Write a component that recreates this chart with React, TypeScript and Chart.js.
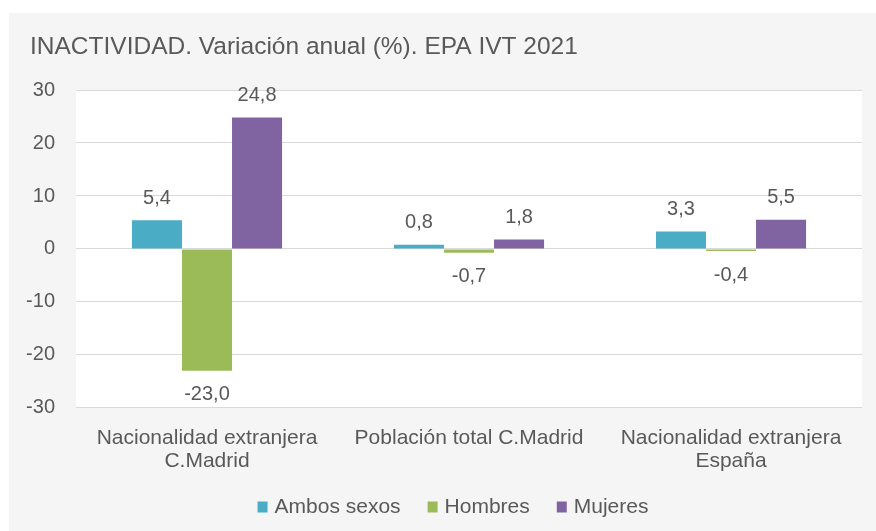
import React, { useEffect, useRef } from "react";
import { Chart, registerables } from "chart.js";
Chart.register(...registerables);

const titleText = "INACTIVIDAD. Variación anual (%). EPA IVT 2021";
const categories: string[][] = [
  ["Nacionalidad extranjera", "C.Madrid"],
  ["Población total C.Madrid"],
  ["Nacionalidad extranjera", "España"],
];
const seriesNames = ["Ambos sexos", "Hombres", "Mujeres"];
const ambosSexos = [5.4, 0.8, 3.3];
const hombres = [-23.0, -0.7, -0.4];
const mujeres = [24.8, 1.8, 5.5];
const seriesColors = ["#4BACC6", "#9BBB59", "#8064A2"];
const yMin = -30;
const yMax = 30;
const yStep = 10;

const FONT = "'Liberation Sans', Arial, sans-serif";
const TEXT = "#595959";

const bgPlugin = {
  id: "bgPlugin",
  beforeDraw(chart: any) {
    const { ctx, chartArea } = chart;
    ctx.save();
    ctx.fillStyle = "#ffffff";
    ctx.fillRect(0, 0, chart.width, chart.height);
    ctx.fillStyle = "#f5f5f5";
    ctx.fillRect(9, 13, chart.width - 9, chart.height - 13);
    ctx.fillStyle = "#ffffff";
    ctx.fillRect(chartArea.left, chartArea.top, chartArea.right - chartArea.left, chartArea.bottom - chartArea.top);
    ctx.fillStyle = TEXT;
    ctx.font = `24.5px ${FONT}`;
    ctx.textBaseline = "middle";
    ctx.textAlign = "left";
    ctx.fillText(titleText, 30, 47);

    // legend
    ctx.font = `21px ${FONT}`;
    const boxW = 10, boxH = 11, gapBT = 7, gapItem = 27;
    const widths = seriesNames.map((n) => ctx.measureText(n).width);
    const total = widths.reduce((a, w) => a + boxW + gapBT + w, 0) + gapItem * (seriesNames.length - 1);
    let x = 453 - total / 2;
    const cy = 507;
    seriesNames.forEach((n, i) => {
      ctx.fillStyle = seriesColors[i];
      ctx.fillRect(x, cy - boxH / 2, boxW, boxH);
      x += boxW + gapBT;
      ctx.fillStyle = TEXT;
      ctx.fillText(n, x, cy);
      x += widths[i] + gapItem;
    });
    ctx.restore();
  },
};

const labelPlugin = {
  id: "labelPlugin",
  afterDatasetsDraw(chart: any) {
    const { ctx } = chart;
    ctx.save();
    ctx.fillStyle = TEXT;
    ctx.font = `20px ${FONT}`;
    ctx.textAlign = "center";
    ctx.textBaseline = "middle";
    chart.data.datasets.forEach((ds: any, i: number) => {
      const meta = chart.getDatasetMeta(i);
      meta.data.forEach((bar: any, j: number) => {
        const v = ds.data[j] as number;
        const txt = v.toFixed(1).replace(".", ",");
        const y = v >= 0 ? bar.y - 22 : bar.y + 24;
        ctx.fillText(txt, bar.x, y);
      });
    });
    ctx.restore();
  },
};

export default function App() {
  const ref = useRef<HTMLCanvasElement>(null);
  useEffect(() => {
    if (!ref.current) return;
    const chart = new Chart(ref.current, {
      type: "bar",
      data: {
        labels: categories,
        datasets: [ambosSexos, hombres, mujeres].map((d, i) => ({
          label: seriesNames[i],
          data: d,
          backgroundColor: seriesColors[i],
          barPercentage: 1,
          categoryPercentage: 0.573,
        })),
      },
      options: {
        responsive: false,
        animation: false,
        layout: { padding: { top: 90, right: 14, left: 0, bottom: 40 } },
        plugins: {
          legend: { display: false },
          tooltip: { enabled: false },
          title: { display: false },
        },
        scales: {
          x: {
            grid: { display: false, drawTicks: false },
            border: { display: false },
            ticks: {
              color: TEXT,
              font: { family: FONT, size: 21, lineHeight: 1.12 },
              padding: 18,
              maxRotation: 0,
              autoSkip: false,
            },
          },
          y: {
            min: yMin,
            max: yMax,
            grid: { color: "#d9d9d9", drawTicks: false, lineWidth: 1 },
            border: { display: false },
            ticks: { stepSize: yStep, color: TEXT, font: { family: FONT, size: 20 }, padding: 21 },
            afterFit(scale: any) {
              scale.width = 76;
            },
          },
        },
      },
      plugins: [bgPlugin, labelPlugin],
    } as any);
    return () => chart.destroy();
  }, []);
  return (
    <div style={{ position: "absolute", left: 0, top: 0, width: 876, height: 531 }}>
      <canvas ref={ref} width={876} height={531} style={{ width: 876, height: 531, display: "block" }} />
    </div>
  );
}
